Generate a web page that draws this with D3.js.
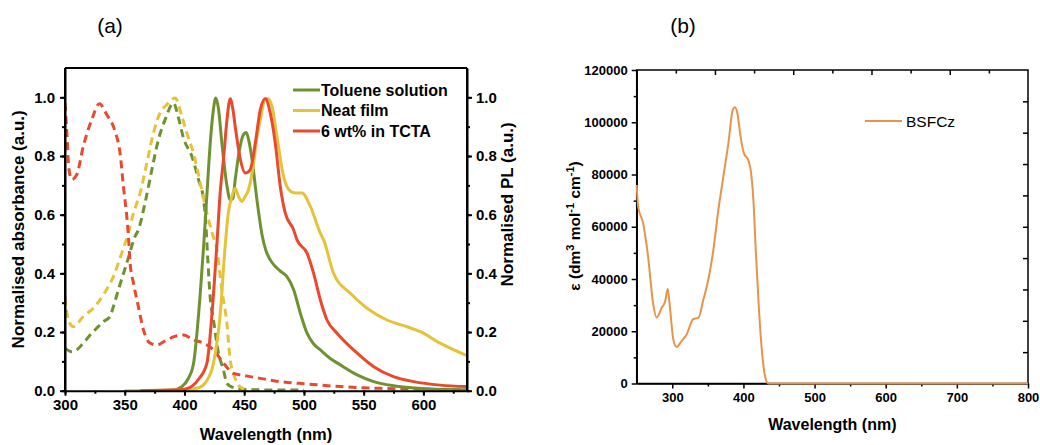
<!DOCTYPE html>
<html><head><meta charset="utf-8">
<script src="https://cdn.jsdelivr.net/npm/d3@7"></script>
<style>body{margin:0;background:#fff}svg{display:block}text{font-family:"Liberation Sans",Arial,sans-serif}</style>
</head><body><svg id="c" width="1040" height="445"></svg>
<script>
// ---------- Panel (a) data: [wavelength nm, normalised value] ----------
const tolueneAbs = [[300,0.145],[305.6,0.133],[310,0.14],[315.3,0.162],[320,0.185],[326.5,0.213],[332,0.235],[337.7,0.253],[340,0.28],[344.7,0.344],[351.7,0.435],[358.7,0.526],[361.4,0.548],[367,0.64],[372.7,0.753],[378.2,0.856],[383.8,0.924],[390.8,0.981],[395,0.93],[399.2,0.861],[406.2,0.799],[411.8,0.719],[416,0.651],[418,0.56],[419.5,0.45],[421.5,0.32],[424.3,0.241],[428.5,0.128],[432.7,0.07],[435.5,0.025],[440,0.012],[448,0.005],[460,0.003],[500,0.002]];
const neatAbs = [[300,0.32],[302.8,0.241],[307,0.218],[315.3,0.253],[323.7,0.281],[332.1,0.327],[340.5,0.389],[347.5,0.469],[353,0.537],[357.3,0.605],[362.9,0.674],[368.5,0.776],[374,0.878],[379.6,0.947],[385.2,0.975],[392.2,0.998],[397.8,0.935],[402,0.878],[407.5,0.81],[413.2,0.708],[418.8,0.605],[423,0.54],[427.2,0.48],[431.3,0.344],[435.5,0.23],[438.3,0.105],[441,0.059],[445,0.02],[450,0.005]];
const tctaAbs = [[300,0.98],[302,0.845],[303,0.765],[305.6,0.72],[309.8,0.736],[315.3,0.833],[322.4,0.924],[328.8,0.978],[335,0.941],[341.9,0.884],[346.1,0.81],[348.9,0.696],[351.7,0.594],[353.1,0.526],[354.5,0.435],[357.3,0.367],[361.4,0.287],[365.7,0.207],[371.3,0.162],[376.9,0.156],[385.2,0.173],[392,0.185],[399.2,0.19],[407.5,0.173],[415.9,0.162],[424.3,0.139],[432.7,0.094],[441,0.059],[446.7,0.054],[455,0.048],[463.5,0.042],[480.2,0.031],[502.6,0.023],[530.5,0.014],[564,0.008],[600,0.005],[636,0.003]];
const toluenePL = [[370,0],[390,0.002],[397.8,0.014],[403,0.04],[407.5,0.09],[413,0.32],[416,0.49],[418.8,0.67],[421.5,0.84],[424,0.95],[426.2,0.998],[428.5,0.96],[431.3,0.845],[435.5,0.70],[438.3,0.65],[440.5,0.655],[442.5,0.72],[446,0.82],[449,0.87],[451.7,0.88],[454,0.85],[456.5,0.79],[460.7,0.65],[465,0.53],[468,0.48],[471.8,0.446],[477.4,0.418],[481,0.405],[485.8,0.389],[491.4,0.344],[497,0.264],[502.6,0.196],[508,0.16],[513.7,0.139],[522,0.11],[530.5,0.088],[544.5,0.054],[558.4,0.031],[575,0.017],[590,0.01],[610,0.005],[636,0.003]];
const neatPL = [[350,0],[400,0.003],[412,0.01],[418,0.03],[424.3,0.094],[430,0.264],[434,0.49],[436.5,0.6],[439.7,0.662],[442.5,0.69],[445,0.665],[448,0.645],[450.5,0.66],[453.6,0.685],[457.9,0.776],[460.5,0.86],[463.5,0.924],[467.7,0.995],[470,0.995],[473.3,0.969],[477.4,0.867],[483,0.73],[488.6,0.68],[492.8,0.674],[498.4,0.674],[505.4,0.628],[513.7,0.537],[516.5,0.514],[524.8,0.40],[538.8,0.332],[552.8,0.281],[569.5,0.241],[586.3,0.218],[597.5,0.201],[614,0.162],[636,0.12]];
const tctaPL = [[363,0],[390,0.002],[400,0.005],[406,0.014],[412,0.04],[418.8,0.094],[423,0.26],[427,0.49],[430,0.68],[432.7,0.79],[435.5,0.92],[438.3,0.995],[440.5,0.96],[442.5,0.90],[446.7,0.79],[450.9,0.742],[455,0.753],[459.3,0.844],[463.5,0.958],[467.7,0.995],[471.8,0.947],[476,0.844],[480.2,0.696],[484.4,0.605],[491.4,0.548],[494.2,0.514],[502.6,0.469],[508.1,0.40],[513.7,0.31],[519.3,0.241],[527.7,0.196],[541.6,0.139],[558.4,0.082],[575,0.048],[591.8,0.031],[614,0.019],[636,0.014]];
const seriesNamesA = ["Toluene solution","Neat film","6 wt% in TCTA"];
const xTicksA = [300,350,400,450,500,550,600];
const yTicksA = [0,0.2,0.4,0.6,0.8,1.0];

// ---------- Panel (b) data ----------
const bsfczEps = [[250,76000],[252,67700],[259,61400],[266,48600],[273,30800],[278,25300],[285,28900],[290,31500],[293.6,36300],[297,28300],[301.5,16800],[306,14000],[313,16200],[320,18700],[329.6,24700],[336.6,25100],[343.7,32100],[350.7,39800],[357.8,51200],[364.8,66500],[371.8,79200],[378.9,92000],[385,104700],[388,105700],[391.5,103400],[396,94500],[400.6,88200],[407,85400],[410.8,80500],[414,70300],[417.8,48600],[421.6,29500],[425.8,13000],[430.4,2800],[435,0],[800,0]];
const seriesNameB = "BSFCz";
const xTicksB = [300,400,500,600,700,800];
const yTicksB = [0,20000,40000,60000,80000,100000,120000];

const svg = d3.select("#c");
svg.append("rect").attr("width",1040).attr("height",445).attr("fill","#fff");
const colors = ["#6f9230","#e6c23a","#e94a2e"];

// ================= Panel (a) =================
const A = {l:65,r:467,t:68,b:390.7};
const xa = d3.scaleLinear().domain([300,636.5]).range([A.l,A.r]);
const ya = d3.scaleLinear().domain([0,1.1]).range([A.b,A.t]);
const ga = svg.append("g");
svg.append("clipPath").attr("id","clipA").append("rect").attr("x",A.l).attr("y",A.t).attr("width",A.r-A.l).attr("height",A.b-A.t);
const lineA = d3.line().x(d=>xa(d[0])).y(d=>ya(d[1])).curve(d3.curveMonotoneX);
const plotA = ga.append("g").attr("clip-path","url(#clipA)");
[[tolueneAbs,0],[neatAbs,1],[tctaAbs,2]].forEach(([d,i])=>{
  plotA.append("path").datum(d).attr("d",lineA).attr("fill","none").attr("stroke",colors[i]).attr("stroke-width",3).attr("stroke-dasharray","8,5");
});
[[toluenePL,0],[neatPL,1],[tctaPL,2]].forEach(([d,i])=>{
  plotA.append("path").datum(d).attr("d",lineA).attr("fill","none").attr("stroke",colors[i]).attr("stroke-width",3);
});
function styleAxis(g,fs){
  g.selectAll("path").attr("stroke","#000").attr("stroke-width",2);
  g.selectAll("line").attr("stroke","#000").attr("stroke-width",2);
  g.selectAll("text").attr("font-size",fs).attr("font-weight","bold").attr("fill","#000").attr("font-family","Liberation Sans, Arial, sans-serif");
}
const minorA = d3.range(0,1.01,0.1);
ga.append("g").attr("transform",`translate(${A.l},0)`).call(d3.axisLeft(ya).tickValues(minorA).tickSize(3).tickFormat("")).call(g=>{g.select("path").remove();g.selectAll("line").attr("stroke","#000").attr("stroke-width",2);});
ga.append("g").attr("transform",`translate(${A.r},0)`).call(d3.axisRight(ya).tickValues(minorA).tickSize(3).tickFormat("")).call(g=>{g.select("path").remove();g.selectAll("line").attr("stroke","#000").attr("stroke-width",2);});
ga.append("g").attr("transform",`translate(0,${A.b})`).call(d3.axisBottom(xa).tickValues(d3.range(300,636,25)).tickSize(3).tickFormat("")).call(g=>{g.select("path").remove();g.selectAll("line").attr("stroke","#000").attr("stroke-width",2);});
ga.append("g").attr("transform",`translate(0,${A.b})`).call(d3.axisBottom(xa).tickValues(xTicksA).tickSize(5).tickSizeOuter(0).tickPadding(4)).call(g=>styleAxis(g,15));
ga.append("g").attr("transform",`translate(${A.l},0)`).call(d3.axisLeft(ya).tickValues(yTicksA).tickFormat(d3.format(".1f")).tickSize(5).tickSizeOuter(0).tickPadding(5)).call(g=>styleAxis(g,15));
ga.append("g").attr("transform",`translate(${A.r},0)`).call(d3.axisRight(ya).tickValues(yTicksA).tickFormat(d3.format(".1f")).tickSize(5).tickSizeOuter(0).tickPadding(4)).call(g=>styleAxis(g,15));
ga.append("line").attr("x1",A.l).attr("x2",A.r).attr("y1",A.t).attr("y2",A.t).attr("stroke","#000").attr("stroke-width",2);
ga.append("line").attr("x1",A.l).attr("x2",A.l).attr("y1",A.t).attr("y2",A.b).attr("stroke","#000").attr("stroke-width",2);
ga.append("line").attr("x1",A.r).attr("x2",A.r).attr("y1",A.t).attr("y2",A.b).attr("stroke","#000").attr("stroke-width",2);
seriesNamesA.forEach((n,i)=>{
  const y = 90 + i*20.5;
  ga.append("line").attr("x1",293).attr("x2",320).attr("y1",y).attr("y2",y).attr("stroke",colors[i]).attr("stroke-width",3);
  ga.append("text").attr("x",321).attr("y",y+5.5).attr("font-size",16).attr("font-weight","bold").text(n);
});
ga.append("text").attr("x",(A.l+A.r)/2).attr("y",440).attr("text-anchor","middle").attr("font-size",16.5).attr("font-weight","bold").text("Wavelength (nm)");
ga.append("text").attr("transform",`translate(24,${(A.t+A.b)/2}) rotate(-90)`).attr("text-anchor","middle").attr("font-size",17).attr("font-weight","bold").text("Normalised absorbance (a.u.)");
ga.append("text").attr("transform",`translate(513,${(A.t+A.b)/2-25}) rotate(-90)`).attr("text-anchor","middle").attr("font-size",17).attr("font-weight","bold").text("Normalised PL (a.u.)");
ga.append("text").attr("x",110).attr("y",33).attr("text-anchor","middle").attr("font-size",21).attr("font-family","Open Sans, sans-serif").text("(a)");

// ================= Panel (b) =================
const B = {l:636.7,r:1028,t:70,b:383.5};
const xb = d3.scaleLinear().domain([250,800]).range([B.l,B.r]);
const yb = d3.scaleLinear().domain([0,120000]).range([B.b,B.t]);
const gb = svg.append("g");
function thin(g,w){g.selectAll("path").attr("stroke","#000").attr("stroke-width",w);g.selectAll("line").attr("stroke","#000").attr("stroke-width",w);}
gb.append("g").attr("transform",`translate(${B.l},0)`).call(d3.axisLeft(yb).tickValues(d3.range(10000,120000,20000)).tickSize(3).tickFormat("")).call(g=>{g.select("path").remove();thin(g,1.5);});
gb.append("g").attr("transform",`translate(0,${B.b})`).call(d3.axisBottom(xb).tickValues(d3.range(350,800,100)).tickSize(3).tickFormat("")).call(g=>{g.select("path").remove();thin(g,1.5);});
const topScale = d3.scaleLinear().domain([0,10]).range([B.l,B.r]);
gb.append("g").attr("transform",`translate(0,${B.t})`).call(d3.axisBottom(topScale).tickValues(d3.range(1,10)).tickSize(5).tickFormat("")).call(g=>{g.select("path").remove();thin(g,1.5);g.selectAll(".tick line").attr("y2",(d)=>d%2===0?5:3.5);});
const rightScale = d3.scaleLinear().domain([0,10]).range([B.b,B.t]);
gb.append("g").attr("transform",`translate(${B.r},0)`).call(d3.axisLeft(rightScale).tickValues(d3.range(1,10)).tickSize(5).tickFormat("")).call(g=>{g.select("path").remove();thin(g,1.5);});
gb.append("g").attr("transform",`translate(0,${B.b})`).call(d3.axisBottom(xb).tickValues(xTicksB).tickSize(5).tickSizeOuter(0).tickPadding(4).tickFormat(d3.format("d"))).call(g=>{thin(g,1.5);g.selectAll("text").attr("font-size",13).attr("font-weight","bold").attr("fill","#000");});
gb.append("g").attr("transform",`translate(${B.l},0)`).call(d3.axisLeft(yb).tickValues(yTicksB).tickSize(5).tickSizeOuter(0).tickPadding(4).tickFormat(d3.format("d"))).call(g=>{thin(g,1.5);g.selectAll("text").attr("font-size",13).attr("font-weight","bold").attr("fill","#000");});
gb.append("rect").attr("x",B.l).attr("y",B.t).attr("width",B.r-B.l).attr("height",B.b-B.t).attr("fill","none").attr("stroke","#000").attr("stroke-width",1.5);
const lineB = d3.line().x(d=>xb(d[0])).y(d=>yb(d[1])).curve(d3.curveMonotoneX);
gb.append("path").datum(bsfczEps).attr("d",lineB).attr("fill","none").attr("stroke","#e8924a").attr("stroke-width",2);
gb.append("line").attr("x1",865).attr("x2",902).attr("y1",121).attr("y2",121).attr("stroke","#e8924a").attr("stroke-width",2);
gb.append("text").attr("x",906).attr("y",127).attr("font-size",15.5).text(seriesNameB);
gb.append("text").attr("x",(B.l+B.r)/2).attr("y",430).attr("text-anchor","middle").attr("font-size",16).attr("font-weight","bold").text("Wavelength (nm)");
const yt = gb.append("text").attr("transform",`translate(580,${226}) rotate(-90)`).attr("text-anchor","middle").attr("font-size",15.5).attr("font-weight","bold");
yt.append("tspan").text("ε (dm");
yt.append("tspan").attr("dy",-6).attr("font-size",11).text("3");
yt.append("tspan").attr("dy",6).text(" mol");
yt.append("tspan").attr("dy",-6).attr("font-size",11).text("-1");
yt.append("tspan").attr("dy",6).text(" cm");
yt.append("tspan").attr("dy",-6).attr("font-size",11).text("-1");
yt.append("tspan").attr("dy",6).text(")");
gb.append("text").attr("x",683).attr("y",33).attr("text-anchor","middle").attr("font-size",21).attr("font-family","Open Sans, sans-serif").text("(b)");
</script></body></html>
